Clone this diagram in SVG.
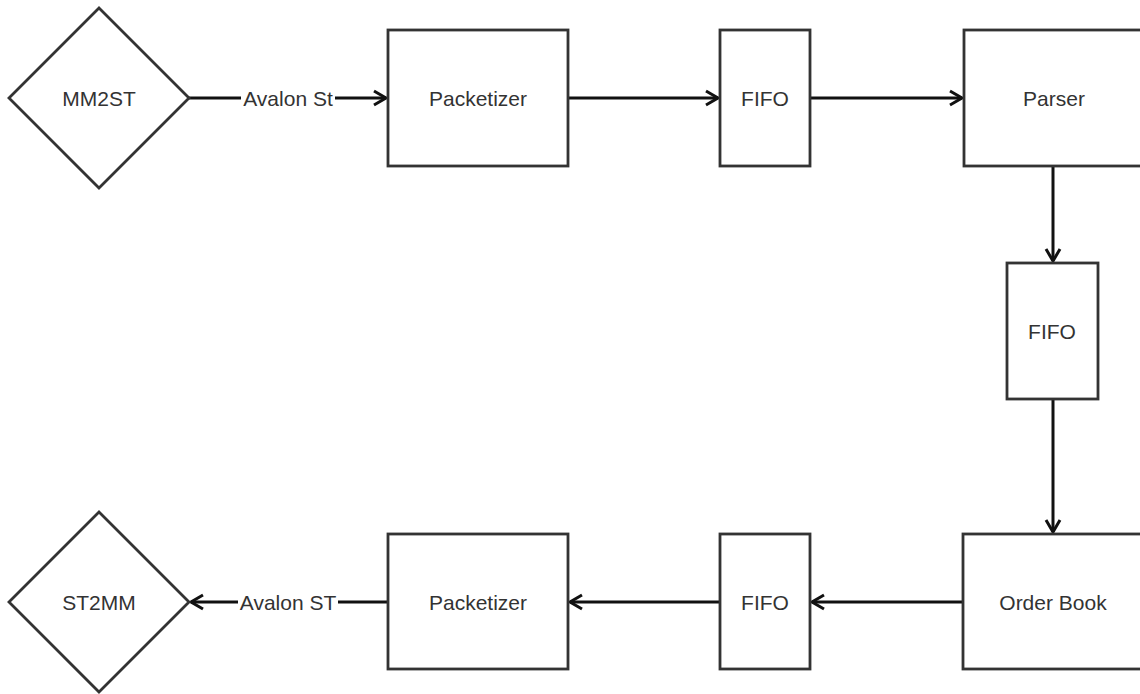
<svg xmlns="http://www.w3.org/2000/svg" width="1140" height="694" viewBox="0 0 1140 694">
  <defs>
    <marker id="arrow" markerUnits="userSpaceOnUse" markerWidth="20" markerHeight="20" viewBox="-16 -10 20 20" refX="0" refY="0" orient="auto">
      <path d="M-12,-7 L0,0 L-12,7" fill="none" stroke="#111" stroke-width="3" stroke-linejoin="miter"/>
    </marker>
    <style>
      .shape { fill: #ffffff; stroke: #333333; stroke-width: 2.8; }
      .label { font-family: "Liberation Sans", Arial, sans-serif; font-size: 21px; fill: #333333; text-anchor: middle; dominant-baseline: central; }
      .edge { fill: none; stroke: #111111; stroke-width: 3; marker-end: url(#arrow); }
      .bg { fill: #ffffff; }
    </style>
  </defs>
  <rect x="0" y="0" width="1140" height="694" fill="#ffffff"/>

  <g id="connectors">
    <path class="edge" d="M189,98 L386,98"/>
    <rect class="bg" x="241" y="86" width="94" height="24"/>
    <text class="label" x="288" y="98">Avalon St</text>
    <path class="edge" d="M568,98 L718,98"/>
    <path class="edge" d="M810,98 L962,98"/>
    <path class="edge" d="M1053,166 L1053,261"/>
    <path class="edge" d="M1053,399 L1053,532"/>
    <path class="edge" d="M963,602 L812,602"/>
    <path class="edge" d="M720,602 L570,602"/>
    <path class="edge" d="M388,602 L191,602"/>
    <rect class="bg" x="238" y="590" width="100" height="24"/>
    <text class="label" x="288" y="602">Avalon ST</text>
  </g>

  <g id="mm2st">
    <polygon class="shape" points="99,8 189,98 99,188 9,98"/>
    <text class="label" x="99" y="98">MM2ST</text>
  </g>
  <g id="packetizer-top">
    <rect class="shape" x="388" y="30" width="180" height="136"/>
    <text class="label" x="478" y="98">Packetizer</text>
  </g>
  <g id="fifo-top">
    <rect class="shape" x="720" y="30" width="90" height="136"/>
    <text class="label" x="765" y="98">FIFO</text>
  </g>
  <g id="parser">
    <rect class="shape" x="964" y="30" width="180" height="136"/>
    <text class="label" x="1054" y="98">Parser</text>
  </g>
  <g id="fifo-right">
    <rect class="shape" x="1007" y="263" width="91" height="136"/>
    <text class="label" x="1052" y="331">FIFO</text>
  </g>
  <g id="order-book">
    <rect class="shape" x="963" y="534" width="180" height="135"/>
    <text class="label" x="1053" y="602">Order Book</text>
  </g>
  <g id="fifo-bottom">
    <rect class="shape" x="720" y="534" width="90" height="135"/>
    <text class="label" x="765" y="602">FIFO</text>
  </g>
  <g id="packetizer-bottom">
    <rect class="shape" x="388" y="534" width="180" height="135"/>
    <text class="label" x="478" y="602">Packetizer</text>
  </g>
  <g id="st2mm">
    <polygon class="shape" points="99,512 189,602 99,692 9,602"/>
    <text class="label" x="99" y="602">ST2MM</text>
  </g>
</svg>
